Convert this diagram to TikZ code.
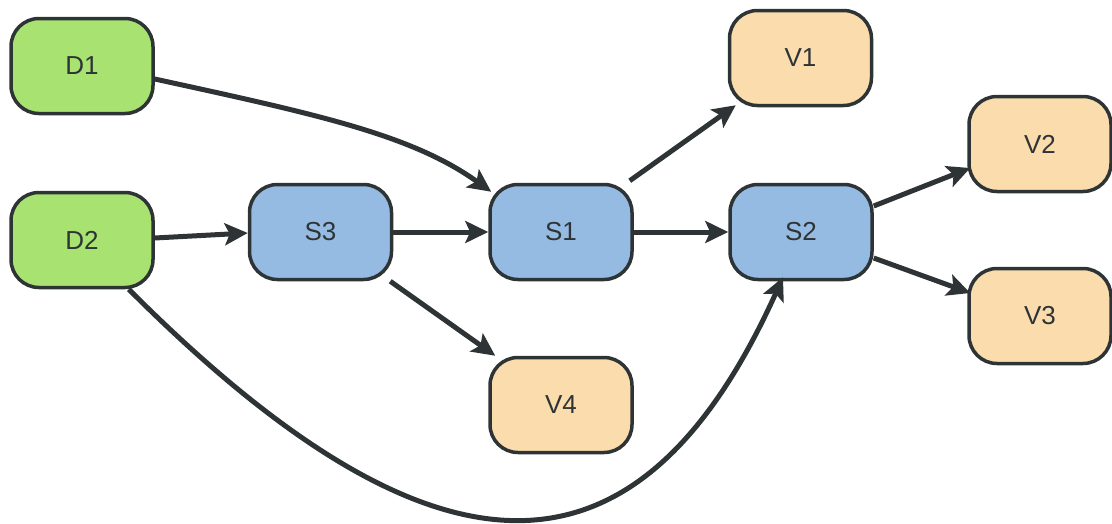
\documentclass[tikz,border=0pt]{standalone}
\usepackage{fontspec}
\setmainfont{Liberation Sans}
\usetikzlibrary{arrows.meta}
\definecolor{ink}{HTML}{2E3436}
\definecolor{dgreen}{HTML}{A8E372}
\definecolor{sblue}{HTML}{95BBE2}
\definecolor{vpeach}{HTML}{FBDDAD}
\tikzset{
  box/.style={draw=ink, line width=3.5pt, rounded corners=28pt, minimum width=142pt, minimum height=95pt, inner sep=0pt, text=ink, font=\fontsize{26}{30}\selectfont},
  dbox/.style={box, fill=dgreen},
  sbox/.style={box, fill=sblue},
  vbox/.style={box, fill=vpeach},
  edge/.style={draw=ink, line width=5pt, -{Stealth[length=23pt,width=22pt,inset=5pt]}}
}
\begin{document}
\begin{tikzpicture}[x=1pt,y=-1pt]
\useasboundingbox (0,0) rectangle (1112,523);
\node[dbox] (D1) at (82,66) {D1};
\node[dbox] (D2) at (82,240) {D2};
\node[sbox] (S3) at (320.5,232) {S3};
\node[sbox] (S1) at (561,232) {S1};
\node[sbox] (S2) at (801,232) {S2};
\node[vbox] (V1) at (800.5,58) {V1};
\node[vbox] (V2) at (1040,144) {V2};
\node[vbox] (V3) at (1040,316) {V3};
\node[vbox] (V4) at (561,405) {V4};

\draw[edge] ([yshift=-13pt]D1.east) .. controls (320,115) and (412,135) .. ([xshift=3pt,yshift=-9pt]S1.north west);
\draw[edge] ([yshift=2pt]D2.east) -- ([yshift=-1pt]S3.west);
\draw[edge] (S3.east) -- (S1.west);
\draw[edge] (S1.east) -- (S2.west);
\draw[edge] ([xshift=-3pt]S3.south east) -- ([xshift=7pt]V4.north west);
\draw[edge] ([xshift=-4pt,yshift=2pt]S1.north east) -- ([xshift=8pt,yshift=2pt]V1.south west);
\draw[edge] ([yshift=26pt]S2.east) -- ([xshift=3pt,yshift=-24pt]V2.west);
\draw[edge] ([yshift=-26pt]S2.east) -- ([xshift=3pt,yshift=23pt]V3.west);
\draw[edge] ([xshift=-26pt]D2.south east) .. controls (455,616) and (647,578) .. ([xshift=-18pt,yshift=4pt]S2.south);
\end{tikzpicture}
\end{document}
